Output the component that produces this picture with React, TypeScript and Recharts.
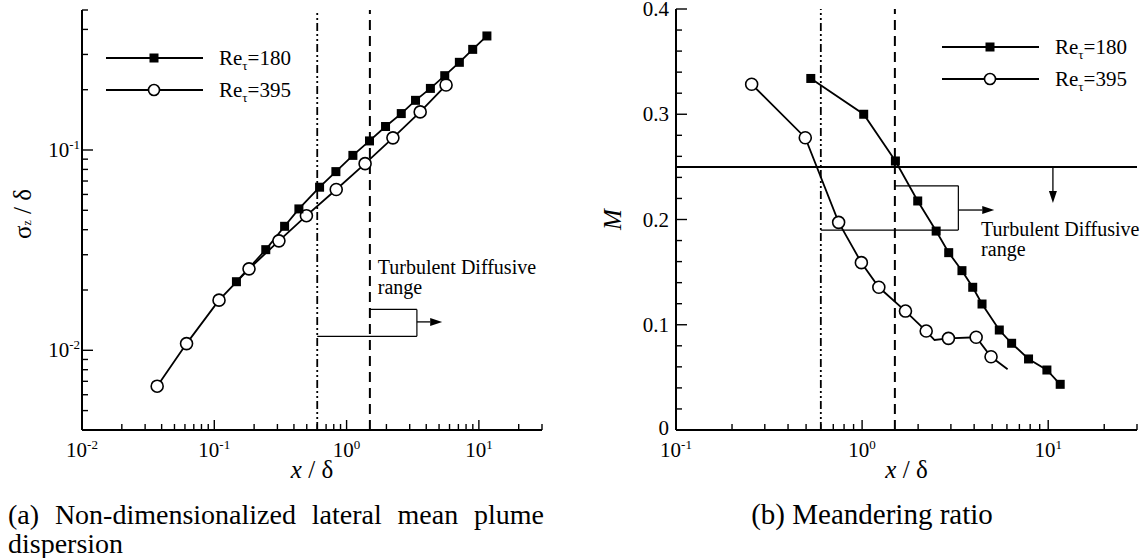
import React from 'react'
import {
  LineChart, Line, XAxis, YAxis, ReferenceLine, ReferenceDot, Legend, Label,
} from 'recharts'

const SERIF = '"Liberation Serif", "DejaVu Serif", serif'

// friction Reynolds numbers of the two cases
const reTau = [180, 395]

// (a) lateral mean plume spread sigma_z / delta
const xA180 = [0.147, 0.245, 0.34, 0.436, 0.625, 0.83, 1.116, 1.49, 1.97, 2.59, 3.32, 4.3, 5.52, 7.12, 8.98, 11.5]
const sigA180 = [0.022, 0.0318, 0.0416, 0.0508, 0.0652, 0.078, 0.094, 0.111, 0.131, 0.152, 0.177, 0.203, 0.235, 0.274, 0.318, 0.371]
const xA395 = [0.037, 0.0617, 0.1086, 0.183, 0.308, 0.497, 0.835, 1.38, 2.24, 3.6, 5.65]
const sigA395 = [0.00662, 0.0108, 0.0178, 0.0255, 0.0352, 0.047, 0.0635, 0.0855, 0.115, 0.155, 0.211]

// (b) meandering ratio M
const xB180 = [0.53, 1.02, 1.51, 1.99, 2.5, 2.92, 3.44, 3.93, 4.41, 5.46, 6.36, 7.84, 9.84, 11.6]
const mB180 = [0.334, 0.3, 0.2556, 0.2176, 0.189, 0.1685, 0.1514, 0.1356, 0.1197, 0.095, 0.0824, 0.0675, 0.057, 0.0434]
const xB395 = [0.255, 0.495, 0.748, 0.991, 1.23, 1.71, 2.21, 2.45, 2.91, 4.1, 4.93, 6.05]
const mB395 = [0.3285, 0.2777, 0.1973, 0.159, 0.1356, 0.113, 0.094, 0.0855, 0.0871, 0.0881, 0.0696, 0.0577]
const symB395 = [1, 1, 1, 1, 1, 1, 1, 0, 1, 1, 1, 0] // 0 = curve point drawn without a symbol

// guide lines
const xDashDot = 0.6
const xDashed = 1.5
const mLimit = 0.25

// axis ticks
const ticksXA = [0.01, 0.02, 0.03, 0.04, 0.05, 0.06, 0.07, 0.08, 0.09, 0.1, 0.2, 0.3, 0.4, 0.5, 0.6, 0.7, 0.8, 0.9, 1, 2, 3, 4, 5, 6, 7, 8, 9, 10, 20, 30]
const ticksYA = [0.004, 0.005, 0.006, 0.007, 0.008, 0.009, 0.01, 0.02, 0.03, 0.04, 0.05, 0.06, 0.07, 0.08, 0.09, 0.1, 0.2, 0.3, 0.4, 0.5]
const ticksXB = [0.1, 0.2, 0.3, 0.4, 0.5, 0.6, 0.7, 0.8, 0.9, 1, 2, 3, 4, 5, 6, 7, 8, 9, 10, 20, 30]
const ticksYB = [0, 0.02, 0.04, 0.06, 0.08, 0.1, 0.12, 0.14, 0.16, 0.18, 0.2, 0.22, 0.24, 0.26, 0.28, 0.3, 0.32, 0.34, 0.36, 0.38, 0.4]

const rows = (xs: number[], ys: number[], sym?: number[]) =>
  xs.map((x, i) => ({ x, y: ys[i], sym: sym ? sym[i] : 1 }))

const dataA180 = rows(xA180, sigA180)
const dataA395 = rows(xA395, sigA395)
const dataB180 = rows(xB180, mB180)
const dataB395 = rows(xB395, mB395, symB395)

const isDecade = (v: number) => Math.abs(Math.log10(v) - Math.round(Math.log10(v))) < 1e-6
const isTenth = (v: number) => Math.abs(v * 10 - Math.round(v * 10)) < 1e-6

const Pow10 = ({ v, x, y, anchor }: any) => (
  <text x={x} y={y} textAnchor={anchor} fontFamily={SERIF} fontSize={21} fill="#000">
    10<tspan dy={-8} fontSize={13}>{Math.round(Math.log10(v))}</tspan>
  </text>
)

// ticks point into the plot, labels only on the decades
const LogXTick = (p: any) => {
  const major = isDecade(p.payload.value)
  return (
    <g>
      <line x1={p.x} y1={p.y} x2={p.x} y2={p.y - (major ? 10 : 6)} stroke="#000" strokeWidth={1.4} />
      {major && <Pow10 v={p.payload.value} x={p.x} y={p.y + 27} anchor="middle" />}
    </g>
  )
}

const LogYTick = (p: any) => {
  const major = isDecade(p.payload.value)
  return (
    <g>
      <line x1={p.x} y1={p.y} x2={p.x + (major ? 11 : 6)} y2={p.y} stroke="#000" strokeWidth={1.4} />
      {major && <Pow10 v={p.payload.value} x={p.x - 2} y={p.y + 7} anchor="end" />}
    </g>
  )
}

const LinYTick = (p: any) => {
  const v = p.payload.value
  const major = isTenth(v)
  return (
    <g>
      <line x1={p.x} y1={p.y} x2={p.x + (major ? 11 : 6)} y2={p.y} stroke="#000" strokeWidth={1.4} />
      {major && (
        <text x={p.x - 7} y={p.y + (v === 0 ? 5 : 7)} textAnchor="end" fontFamily={SERIF} fontSize={21} fill="#000">
          {v === 0 ? '0' : v.toFixed(1)}
        </text>
      )}
    </g>
  )
}

const XTitle = ({ viewBox }: any) => (
  <text x={viewBox.x + viewBox.width / 2} y={viewBox.y + 48} textAnchor="middle" fontFamily={SERIF} fontSize={25} fill="#000">
    <tspan fontStyle="italic">x</tspan> / δ
  </text>
)

const SigmaTitle = ({ viewBox }: any) => {
  const cx = viewBox.x
  const cy = viewBox.y + viewBox.height / 2 - 6
  return (
    <text x={cx} y={cy} transform={`rotate(-90, ${cx}, ${cy})`} textAnchor="middle" dominantBaseline="central"
      fontFamily={SERIF} fontSize={25} fill="#000">
      σ<tspan dy={5} fontSize={12}>z</tspan><tspan dy={-5}> / δ</tspan>
    </text>
  )
}

const MTitle = ({ viewBox }: any) => {
  const cx = viewBox.x - 4
  const cy = viewBox.y + viewBox.height / 2
  return (
    <text x={cx} y={cy} transform={`rotate(-90, ${cx}, ${cy})`} textAnchor="middle" dominantBaseline="central"
      fontFamily={SERIF} fontSize={25} fontStyle="italic" fill="#000">
      M
    </text>
  )
}

const Square = (p: any) => (
  <rect key={p.index} x={p.cx - 4.5} y={p.cy - 4.5} width={9} height={9} fill="#000" />
)

const Ring = (p: any) =>
  p.payload.sym ? (
    <circle key={p.index} cx={p.cx} cy={p.cy} r={6} fill="#fff" stroke="#000" strokeWidth={1.6} />
  ) : (
    <g key={p.index} />
  )

const Arrow = (p: any) => {
  const { x1, y1, x2, y2 } = p
  const a = Math.atan2(y2 - y1, x2 - x1)
  const bx = x2 - 12 * Math.cos(a)
  const by = y2 - 12 * Math.sin(a)
  const nx = -Math.sin(a) * 4
  const ny = Math.cos(a) * 4
  return (
    <g>
      <line x1={x1} y1={y1} x2={bx} y2={by} stroke="#000" strokeWidth={1.3} />
      <polygon points={`${x2},${y2} ${bx + nx},${by + ny} ${bx - nx},${by - ny}`} fill="#000" />
    </g>
  )
}

const RangeNote = (p: any) => (
  <text fontFamily={SERIF} fontSize={20} fill="#000">
    <tspan x={p.cx} y={p.cy + 6}>Turbulent Diffusive</tspan>
    <tspan x={p.cx} y={p.cy + 26}>range</tspan>
  </text>
)

const KeyBox = ({ payload }: any) => (
  <svg width={230} height={70} style={{ display: 'block', overflow: 'visible' }}>
    {(payload ?? []).map((e: any, i: number) => {
      const cy = 16 + i * 32
      const num = String(e.value).split('=')[1]
      return (
        <g key={e.value}>
          <line x1={0} y1={cy} x2={97} y2={cy} stroke="#000" strokeWidth={2} />
          {e.type === 'square'
            ? <rect x={43.5} y={cy - 4.5} width={9} height={9} fill="#000" />
            : <circle cx={48} cy={cy} r={5.5} fill="#fff" stroke="#000" strokeWidth={1.6} />}
          <text x={113} y={cy + 7} fontFamily={SERIF} fontSize={21} fill="#000">
            Re<tspan dy={5} fontSize={13}>τ</tspan><tspan dy={-5}>={num}</tspan>
          </text>
        </g>
      )
    })}
  </svg>
)

const thin = { stroke: '#000', strokeWidth: 1.2 }
const dashDot = { stroke: '#000', strokeWidth: 1.8, strokeDasharray: '8 3 2 3 2 3' }
const dashed = { stroke: '#000', strokeWidth: 2, strokeDasharray: '10 6' }

export default function App() {
  return (
    <div style={{ position: 'absolute', left: 0, top: 0, width: 1147, height: 558, background: '#fff', fontFamily: SERIF }}>
      <div style={{ position: 'absolute', left: 0, top: 0 }}>
        <LineChart width={560} height={500} margin={{ top: 10, right: 18, bottom: 30, left: 22 }} style={{ overflow: 'visible' }}>
          <XAxis dataKey="x" type="number" scale="log" domain={[0.01, 30]} allowDataOverflow ticks={ticksXA}
            interval={0} tickSize={0} tickMargin={0} tick={LogXTick} height={40}
            axisLine={{ stroke: '#000', strokeWidth: 2 }}>
            <Label content={XTitle} />
          </XAxis>
          <YAxis type="number" scale="log" domain={[0.004, 0.5]} allowDataOverflow ticks={ticksYA}
            interval={0} tickSize={0} tickMargin={0} tick={LogYTick} width={60}
            axisLine={{ stroke: '#000', strokeWidth: 2 }}>
            <Label content={SigmaTitle} />
          </YAxis>
          <ReferenceLine x={xDashDot} {...dashDot} />
          <ReferenceLine x={xDashed} {...dashed} />
          <ReferenceLine segment={[{ x: xDashDot, y: 0.01174 }, { x: 3.4, y: 0.01174 }]} {...thin} />
          <ReferenceLine segment={[{ x: 3.4, y: 0.01174 }, { x: 3.4, y: 0.016 }]} {...thin} />
          <ReferenceLine segment={[{ x: xDashed, y: 0.016 }, { x: 3.4, y: 0.016 }]} {...thin} />
          <ReferenceLine segment={[{ x: 3.4, y: 0.01386 }, { x: 5.28, y: 0.01386 }]} shape={Arrow} />
          <ReferenceDot x={1.72} y={0.0258} shape={RangeNote} />
          <Legend layout="vertical" align="center" verticalAlign="middle" content={KeyBox}
            wrapperStyle={{ left: 106, top: 42, width: 230, height: 70 }} />
          <Line data={dataA395} dataKey="y" name={`Re_τ=${reTau[1]}`} legendType="circle" type="linear"
            stroke="#000" strokeWidth={1.8} dot={Ring} isAnimationActive={false} />
          <Line data={dataA180} dataKey="y" name={`Re_τ=${reTau[0]}`} legendType="square" type="linear"
            stroke="#000" strokeWidth={1.8} dot={Square} isAnimationActive={false} />
        </LineChart>
      </div>

      <div style={{ position: 'absolute', left: 580, top: 0 }}>
        <LineChart width={567} height={500} margin={{ top: 9, right: 10, bottom: 30, left: 36 }} style={{ overflow: 'visible' }}>
          <XAxis dataKey="x" type="number" scale="log" domain={[0.1, 30]} allowDataOverflow ticks={ticksXB}
            interval={0} tickSize={0} tickMargin={0} tick={LogXTick} height={40}
            axisLine={{ stroke: '#000', strokeWidth: 2 }}>
            <Label content={XTitle} />
          </XAxis>
          <YAxis type="number" domain={[0, 0.4]} allowDataOverflow ticks={ticksYB}
            interval={0} tickSize={0} tickMargin={0} tick={LinYTick} width={60}
            axisLine={{ stroke: '#000', strokeWidth: 2 }}>
            <Label content={MTitle} />
          </YAxis>
          <ReferenceLine x={xDashDot} {...dashDot} />
          <ReferenceLine x={xDashed} {...dashed} />
          <ReferenceLine y={mLimit} stroke="#000" strokeWidth={2} />
          <ReferenceLine segment={[{ x: 10.6, y: mLimit }, { x: 10.6, y: 0.2157 }]} shape={Arrow} />
          <ReferenceLine segment={[{ x: xDashed, y: 0.232 }, { x: 3.29, y: 0.232 }]} {...thin} />
          <ReferenceLine segment={[{ x: 3.29, y: 0.232 }, { x: 3.29, y: 0.19 }]} {...thin} />
          <ReferenceLine segment={[{ x: xDashDot, y: 0.19 }, { x: 3.29, y: 0.19 }]} {...thin} />
          <ReferenceLine segment={[{ x: 3.29, y: 0.209 }, { x: 5.13, y: 0.209 }]} shape={Arrow} />
          <ReferenceDot x={4.36} y={0.19} shape={RangeNote} />
          <Legend layout="vertical" align="center" verticalAlign="middle" content={KeyBox}
            wrapperStyle={{ left: 362, top: 31, width: 230, height: 70 }} />
          <Line data={dataB395} dataKey="y" name={`Re_τ=${reTau[1]}`} legendType="circle" type="linear"
            stroke="#000" strokeWidth={1.8} dot={Ring} isAnimationActive={false} />
          <Line data={dataB180} dataKey="y" name={`Re_τ=${reTau[0]}`} legendType="square" type="linear"
            stroke="#000" strokeWidth={1.8} dot={Square} isAnimationActive={false} />
        </LineChart>
      </div>

      <div style={{ position: 'absolute', left: 8, top: 500, width: 536, fontSize: 28, lineHeight: '29px', color: '#000' }}>
        <div style={{ textAlign: 'justify', textAlignLast: 'justify' }}>(a) Non-dimensionalized lateral mean plume</div>
        <div>dispersion</div>
      </div>
      <div style={{ position: 'absolute', left: 672, top: 500, width: 400, textAlign: 'center', fontSize: 29, lineHeight: '29px', color: '#000' }}>
        (b) Meandering ratio
      </div>
    </div>
  )
}
